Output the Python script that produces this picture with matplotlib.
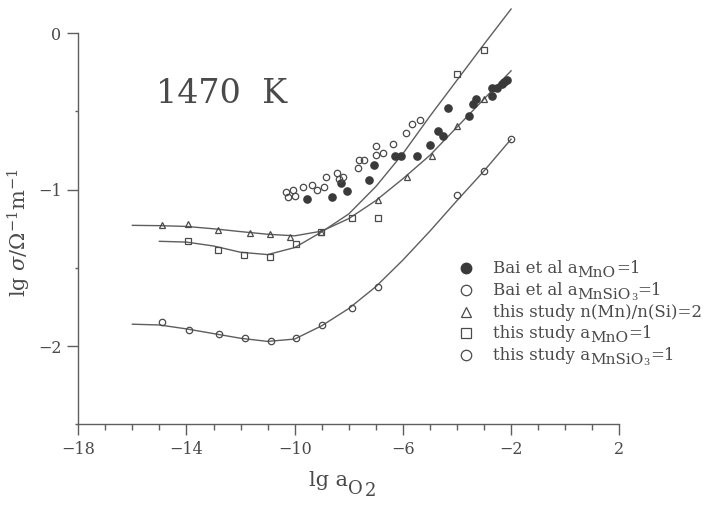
import matplotlib
matplotlib.use('Agg')
import matplotlib.pyplot as plt
from matplotlib.lines import Line2D
from matplotlib.ticker import MultipleLocator

plt.rcParams['font.family'] = ['DejaVu Serif']
plt.rcParams['mathtext.fontset'] = 'custom'
plt.rcParams['mathtext.rm'] = 'DejaVu Serif'
plt.rcParams['mathtext.it'] = 'DejaVu Serif:italic'

INK = '#4a4a4a'
LINE = '#5e5e5e'
W, H = 718, 505

# Bai et al, a(MnO)=1  (filled circles)
bai_mno_x = [-9.56, -8.62, -8.29, -8.08, -7.25, -7.08, -6.29, -6.07, -5.47, -4.99, -4.69,
             -4.51, -4.32, -3.55, -3.42, -3.31, -2.70, -2.70, -2.53, -2.35, -2.25, -2.15]
bai_mno_y = [-1.06, -1.049, -0.96, -1.01, -0.94, -0.845, -0.783, -0.783, -0.787, -0.717, -0.625,
             -0.655, -0.475, -0.526, -0.449, -0.421, -0.402, -0.351, -0.351, -0.324, -0.311, -0.30]

# Bai et al, a(MnSiO3)=1  (open circles)
bai_sio_x = [-10.33, -10.24, -10.05, -9.99, -9.68, -9.37, -9.19, -8.91, -8.86, -8.45, -8.36,
             -8.23, -7.65, -7.61, -7.43, -7.0, -7.0, -6.75, -6.36, -5.9, -5.65, -5.36]
bai_sio_y = [-1.017, -1.047, -1.0, -1.038, -0.981, -0.970, -1.0, -0.981, -0.921, -0.892, -0.932,
             -0.921, -0.864, -0.807, -0.807, -0.781, -0.721, -0.766, -0.706, -0.636, -0.577, -0.555]

# this study, n(Mn)/n(Si)=2
tri_x = [-14.9, -13.93, -12.82, -11.64, -10.9, -10.16, -9.02, -6.91, -5.86, -4.91, -4.01, -3.0]
tri_y = [-1.225, -1.22, -1.255, -1.279, -1.285, -1.30, -1.268, -1.066, -0.919, -0.783, -0.592, -0.419]

# this study, a(MnO)=1
sq_x = [-13.93, -12.82, -11.87, -10.9, -9.96, -9.02, -7.89, -6.93, -3.99, -2.99]
sq_y = [-1.327, -1.383, -1.419, -1.428, -1.347, -1.27, -1.183, -1.179, -0.262, -0.107]

# this study, a(MnSiO3)=1
cir_x = [-14.9, -13.9, -12.8, -11.84, -10.89, -9.94, -9.0, -7.88, -6.91, -4.0, -3.0, -2.0]
cir_y = [-1.845, -1.90, -1.925, -1.946, -1.968, -1.946, -1.868, -1.755, -1.62, -1.032, -0.88, -0.677]

# fitted curves
fit_x = [-16, -15, -14, -13, -12, -11, -10, -9, -8, -7, -6, -5, -4, -3, -2]
tri_fit = [-1.228, -1.23, -1.235, -1.25, -1.268, -1.285, -1.295, -1.265, -1.185, -1.07,
           -0.93, -0.78, -0.60, -0.42, -0.24]
cir_fit = [-1.86, -1.865, -1.89, -1.92, -1.95, -1.97, -1.955, -1.87, -1.76, -1.62,
           -1.45, -1.265, -1.07, -0.88, -0.677]
sq_fit_x = [-15, -14, -13, -12, -11, -10, -9, -8, -7, -6, -5, -4, -3, -2]
sq_fit = [-1.33, -1.335, -1.36, -1.40, -1.415, -1.37, -1.27, -1.155, -0.98, -0.77,
          -0.53, -0.30, -0.07, 0.155]

x_ticks = [-18, -14, -10, -6, -2, 2]
y_ticks = [0, -1, -2]

fig = plt.figure(figsize=(W / 100, H / 100), dpi=100)
ax = fig.add_axes([0.109, 0.1598, 0.7535, 0.7743])

for fx, fy in [(fit_x, tri_fit), (sq_fit_x, sq_fit), (fit_x, cir_fit)]:
    ax.plot(fx, fy, color=LINE, lw=1.0, clip_on=False)

open_kw = dict(ls='none', mfc='none', mec=INK, mew=0.9, clip_on=False)
ax.plot(bai_mno_x, bai_mno_y, 'o', ms=5.2, mfc='#3a3a3a', mec='#3a3a3a', clip_on=False)
ax.plot(bai_sio_x, bai_sio_y, marker='o', ms=4.6, **open_kw)
ax.plot(tri_x, tri_y, marker='^', ms=5.0, **open_kw)
ax.plot(sq_x, sq_y, marker='s', ms=4.8, **open_kw)
ax.plot(cir_x, cir_y, marker='o', ms=4.6, **open_kw)

ax.set_xlim(-18, 2)
ax.set_ylim(-2.5, 0)
ax.set_xticks(x_ticks)
ax.xaxis.set_minor_locator(MultipleLocator(1))
ax.set_yticks(y_ticks)
ax.yaxis.set_minor_locator(MultipleLocator(0.5))

for s in ['top', 'right']:
    ax.spines[s].set_visible(False)
for s in ['left', 'bottom']:
    ax.spines[s].set_color(LINE)
    ax.spines[s].set_linewidth(1.0)

ax.tick_params(which='major', direction='out', length=8, width=1.0, color=LINE,
               labelsize=11.5, labelcolor=INK, pad=4)
ax.tick_params(which='minor', direction='out', length=4, width=1.0, color=LINE)
ax.tick_params(axis='y', which='minor', length=2)

renderer = fig.canvas.get_renderer()


def text_run(x, y, pieces):
    # write pieces of text one after another; y is the baseline in pixels from
    # the top, a negative dy drops the piece below it
    for s, size, dy in pieces:
        t = fig.text(x / W, (H - y + dy) / H, s, fontsize=size, color=INK,
                     ha='left', va='baseline')
        x += t.get_window_extent(renderer).width + (2 if s == 'O' else 0)


fig.text(0.309, 0.813, '1470  K', fontsize=24, color=INK, ha='center', va='center')
text_run(309, 486, [('lg a', 15, 0), ('O', 13, -8), ('2', 13, -10)])
fig.text(0.0265, 0.539, r'lg $\sigma$/$\Omega^{-1}$m$^{-1}$', fontsize=15, color=INK,
         ha='center', va='center', rotation=90)

# legend drawn by hand: marker column, then text runs with larger subscripts
leg_rows = [268, 290, 312, 333, 355]
leg_marks = [
    dict(marker='o', ms=7.5, mfc='#3a3a3a', mec='#3a3a3a'),
    dict(marker='o', ms=7.5, mfc='none', mec=INK, mew=0.9),
    dict(marker='^', ms=7.5, mfc='none', mec=INK, mew=0.9),
    dict(marker='s', ms=7.0, mfc='none', mec=INK, mew=0.9),
    dict(marker='o', ms=7.5, mfc='none', mec=INK, mew=0.9),
]
leg_texts = [
    [('Bai et al a', 12, 0), ('MnO', 11, -4), ('=1', 12, 0)],
    [('Bai et al a', 12, 0), ('MnSiO', 11, -4), ('3', 7, -5), ('=1', 12, 0)],
    [('this study n(Mn)/n(Si)=2', 12, 0)],
    [('this study a', 12, 0), ('MnO', 11, -4), ('=1', 12, 0)],
    [('this study a', 12, 0), ('MnSiO', 11, -4), ('3', 7, -5), ('=1', 12, 0)],
]
for yc, mk, pieces in zip(leg_rows, leg_marks, leg_texts):
    fig.add_artist(Line2D([466 / W], [(H - yc) / H], ls='none',
                          transform=fig.transFigure, **mk))
    text_run(493, yc + 5, pieces)

plt.savefig('out.png', dpi=100)
